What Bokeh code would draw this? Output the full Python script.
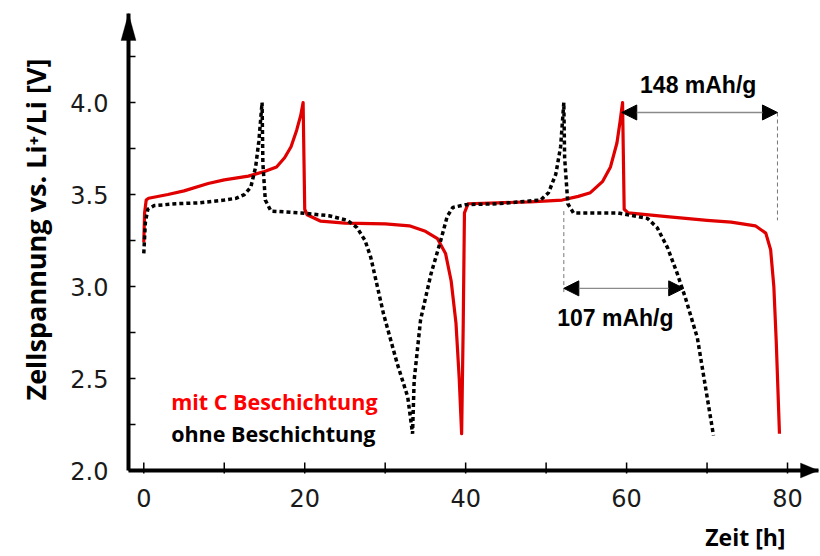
from bokeh.plotting import figure
from bokeh.models import Range1d, FixedTicker, Label, Arrow, NormalHead, PolyAnnotation, CustomJSTickFormatter, Title
from bokeh.core.properties import value
from bokeh.embed import file_html
from bokeh.resources import INLINE

# ---- data ----
t_red = [0.0, 0.1, 0.3, 0.6, 3, 5, 8, 10, 13, 15, 16.5, 17.5, 18.3, 19.0, 19.5, 19.8,
         20.0, 20.3, 22, 25, 30, 33, 35, 36.5, 37.5, 38.2, 38.8, 39.2, 39.5, 39.7, 39.85,
         40.3, 44, 48, 52, 54, 55.5, 57, 58, 58.8, 59.2, 59.5, 59.7, 60.2, 65, 70, 73, 76,
         77.3, 77.9, 78.3, 78.6, 79.0]
v_red = [3.24, 3.40, 3.47, 3.48, 3.50, 3.52, 3.56, 3.58, 3.60, 3.625, 3.65, 3.70, 3.76, 3.85, 3.93, 4.00,
         3.42, 3.39, 3.355, 3.345, 3.34, 3.33, 3.30, 3.26, 3.18, 3.03, 2.80, 2.50, 2.20, 2.80, 3.40,
         3.45, 3.455, 3.46, 3.47, 3.49, 3.51, 3.57, 3.65, 3.78, 3.90, 4.00, 3.42, 3.40, 3.38, 3.36, 3.35, 3.33,
         3.29, 3.20, 3.00, 2.70, 2.20]

t_black = [0.0, 0.2, 0.5, 1.3, 4, 7, 10, 11.5, 12.5, 13.3, 13.9, 14.3, 14.7, 14.8, 15.1, 15.8,
           19.5, 23, 25.3, 26.5, 27.5, 28.2, 29.8, 31.5, 32.8, 33.4, 33.6, 34.4, 35.7, 36.9, 37.7,
           38.4, 40, 44, 49.3, 50.3, 51.2, 51.8, 52.2, 52.3, 52.7, 53.4, 58.9, 62.6, 63.8, 65.1,
           66.3, 67.3, 68.8, 70.8]
v_black = [3.18, 3.35, 3.42, 3.44, 3.45, 3.455, 3.47, 3.48, 3.50, 3.54, 3.65, 3.79, 4.00, 3.67, 3.47, 3.41,
           3.40, 3.385, 3.36, 3.32, 3.25, 3.16, 2.85, 2.58, 2.40, 2.20, 2.49, 2.82, 3.07, 3.25, 3.38,
           3.43, 3.445, 3.45, 3.47, 3.51, 3.61, 3.76, 4.00, 3.70, 3.45, 3.40, 3.40, 3.37, 3.32, 3.21,
           3.07, 2.94, 2.72, 2.19]

x_major = [0, 20, 40, 60, 80]
x_minor = [10, 30, 50, 70]
y_major = [2.0, 2.5, 3.0, 3.5, 4.0]
y_minor = [2.25, 2.75, 3.25, 3.75, 4.25]
x_title = "Zeit [h]"
y_title = "Zellspannung vs. Li\u207a/Li [V]"

legend_texts = ["mit C Beschichtung", "ohne Beschichtung"]
cap148 = ["148 mAh/g", 59.4, 78.75, 3.946]   # label, t_start, t_end, V
cap107 = ["107 mAh/g", 52.2, 67.1, 2.99]

# ---- geometry ----
X0, X1 = -1.9, 83.85          # axis extent (x)
Y0, Y1 = 2.0, 4.484           # axis extent (y)
ppx = 690 / (X1 - X0)         # px per hour
ppy = 457 / (Y1 - Y0)         # px per volt
XF0 = X0 - 10 / ppx
XF1 = X0 + 692 / ppx
YF0 = Y0 - 86 / ppy
YF1 = Y0 + 462 / ppy

p = figure(width=820, height=556, x_range=Range1d(XF0, XF1), y_range=Range1d(YF0, YF1),
           output_backend="svg", toolbar_location=None, x_axis_location=None,
           min_border_left=118, min_border_right=0, min_border_top=8, min_border_bottom=0)
p.outline_line_color = None
p.xgrid.visible = False
p.ygrid.visible = False
p.background_fill_color = "white"
p.border_fill_color = "white"

# y axis: library supplies the tick labels; line and ticks drawn at the true origin
ax = p.yaxis[0]
ax.axis_line_color = None
ax.major_tick_line_color = None
ax.minor_tick_line_color = None
ax.major_tick_in = 0
ax.major_tick_out = 0
ax.minor_tick_in = 0
ax.minor_tick_out = 0
ax.major_label_text_font = "DejaVu Sans"
ax.major_label_text_font_size = "24px"
ax.major_label_text_color = "#1a1a1a"
ax.ticker = FixedTicker(ticks=y_major, minor_ticks=y_minor)
ax.formatter = CustomJSTickFormatter(code="return tick.toFixed(1);")
ax.major_label_standoff = 10

p.add_layout(Title(text=y_title, align="left", offset=156, vertical_align="middle", standoff=26,
                   text_font="Open Sans", text_font_style="bold", text_font_size="27px",
                   text_color="black"), "left")

# x tick labels
p.text(x=x_major, y=[Y0 - 27 / ppy] * len(x_major), text=[str(v) for v in x_major],
       text_font=value("DejaVu Sans"), text_font_size="24px", text_color="#1a1a1a",
       text_align="center", text_baseline="middle")

# axis lines through the origin
p.segment(x0=[X0, X0], y0=[Y0, Y0], x1=[X0, X1], y1=[Y1, Y0], line_color="black", line_width=4)
# ticks (inside)
yt = y_major + y_minor
p.segment(x0=[X0] * len(yt), y0=yt, x1=[X0 + 7 / ppx] * len(yt), y1=yt, line_color="black", line_width=1.5)
xt = x_major + x_minor
p.segment(x0=xt, y0=[Y0 - 3 / ppy] * len(xt), x1=xt, y1=[Y0 + 8 / ppy] * len(xt), line_color="black", line_width=1.5)

# axis arrow heads
p.add_layout(PolyAnnotation(xs=[X0, X0 - 7.5 / ppx, X0 + 7.5 / ppx], ys=[Y1, Y1 - 27 / ppy, Y1 - 27 / ppy],
                            fill_color="black", fill_alpha=1, line_color="black", line_width=1))
p.add_layout(PolyAnnotation(xs=[X1, X1 - 18 / ppx, X1 - 18 / ppx], ys=[Y0, Y0 + 7.5 / ppy, Y0 - 7.5 / ppy],
                            fill_color="black", fill_alpha=1, line_color="black", line_width=1))

# curves
p.line(t_red, v_red, line_color="#e00000", line_width=3.2, line_join="round")
p.line(t_black, v_black, line_color="black", line_width=3.5, line_dash="4 3")

# capacity annotations
p.segment(x0=[cap148[2], cap107[1]], y0=[cap148[3], 3.41], x1=[cap148[2], cap107[1]], y1=[3.36, 2.97],
          line_color="#777777", line_width=1, line_dash="4 3")
for cap in (cap148, cap107):
    p.add_layout(Arrow(x_start=cap[1], y_start=cap[3], x_end=cap[2], y_end=cap[3],
                       line_color="#8a8a8a", line_width=1.3,
                       start=NormalHead(size=15, fill_color="black", line_color="black"),
                       end=NormalHead(size=15, fill_color="black", line_color="black")))
p.add_layout(Label(x=68.9, y=cap148[3] + 0.15, text=cap148[0],
                   text_font="Liberation Sans", text_font_style="bold", text_font_size="23px",
                   text_align="center", text_baseline="middle", text_color="black"))
p.add_layout(Label(x=58.6, y=cap107[3] - 0.16, text=cap107[0],
                   text_font="Liberation Sans", text_font_style="bold", text_font_size="23px",
                   text_align="center", text_baseline="middle", text_color="black"))

# legend texts
p.add_layout(Label(x=3.4, y=2.375, text=legend_texts[0], text_font="Open Sans", text_font_style="bold",
                   text_font_size="21.5px", text_color="#ff0000", text_baseline="middle"))
p.add_layout(Label(x=3.4, y=2.2, text=legend_texts[1], text_font="Open Sans", text_font_style="bold",
                   text_font_size="21.5px", text_color="black", text_baseline="middle"))

# x axis title
p.add_layout(Label(x=(785 - 143.3) / ppx, y=Y0 - 66 / ppy, text=x_title, text_font="Open Sans",
                   text_font_style="bold", text_font_size="23px", text_color="black",
                   text_align="right", text_baseline="middle"))

open("out.html", "w").write(file_html(p, INLINE))
